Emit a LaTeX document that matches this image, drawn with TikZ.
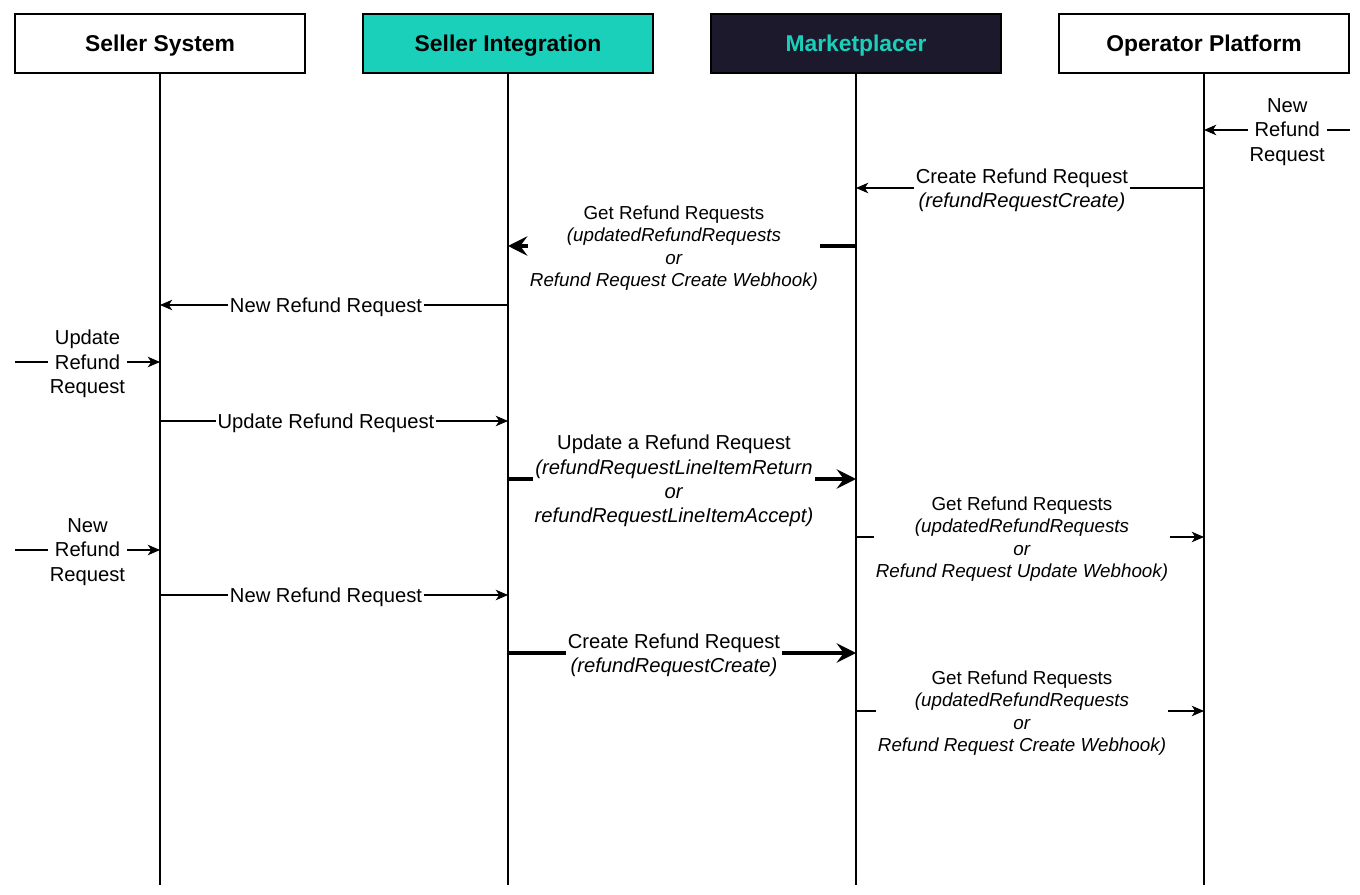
\documentclass[tikz,border=0pt]{standalone}
\usepackage{fontspec}
\setmainfont{Liberation Sans}
\usetikzlibrary{arrows.meta, positioning}
\definecolor{tealMarket}{RGB}{27,208,187}
\definecolor{navyMarket}{RGB}{28,25,45}

\begin{document}
\begin{tikzpicture}[
    x=0.02cm, y=-0.02cm,
    actor/.style={draw=black, line width=1.1pt, minimum width=5.8cm, minimum height=1.18cm, text depth=0pt, font=\fontsize{13}{15}\selectfont\bfseries},
    lifeline/.style={line width=1.1pt},
    msg/.style={line width=0.6pt, -{Stealth[length=7pt, width=6pt, inset=2pt]}},
    bigmsg/.style={line width=2pt, -{Stealth[length=11pt, width=11pt, inset=4pt]}},
    lbl/.style={fill=white, inner sep=1pt, align=center, yshift=-0.04cm, font=\fontsize{11.5}{13.9}\selectfont},
    getlbl/.style={lbl, font=\fontsize{10.7}{12.8}\selectfont}
]
    \useasboundingbox (0,0) rectangle (1360,895);

    % Participantes
    \node[actor, fill=white] (ss) at (160,43.5) {Seller System};
    \node[actor, fill=tealMarket] (si) at (508,43.5) {Seller Integration};
    \node[actor, fill=navyMarket, text=tealMarket] (mp) at (856,43.5) {Marketplacer};
    \node[actor, fill=white] (op) at (1204,43.5) {Operator Platform};

    % Linhas de vida
    \draw[lifeline] (ss.south) -- (ss.south |- 0,885);
    \draw[lifeline] (si.south) -- (si.south |- 0,885);
    \draw[lifeline] (mp.south) -- (mp.south |- 0,885);
    \draw[lifeline] (op.south) -- (op.south |- 0,885);

    % Entradas externas
    \coordinate (opIn) at (1350,130);
    \coordinate (ssIn1) at (15,362);
    \coordinate (ssIn2) at (15,550);

    % Mensagens
    \draw[msg] (opIn) -- node[lbl, pos=0.43] {New\\Refund\\Request} (op.south |- opIn);
    \draw[msg] (op.south |- 0,188) -- node[lbl, xshift=-0.16cm] {Create Refund Request\\\textit{(refundRequestCreate)}} (mp.south |- 0,188);
    \draw[bigmsg] (mp.south |- 0,246) -- node[getlbl, xshift=-0.16cm] {Get Refund Requests\\\textit{(updatedRefundRequests}\\\textit{or}\\\textit{Refund Request Create Webhook)}} (si.south |- 0,246);
    \draw[msg] (si.south |- 0,305) -- node[lbl, xshift=-0.16cm] {New Refund Request} (ss.south |- 0,305);

    \draw[msg] (ssIn1) -- node[lbl, pos=0.5] {Update\\Refund\\Request} (ss.south |- ssIn1);
    \draw[msg] (ss.south |- 0,421) -- node[lbl, xshift=-0.16cm] {Update Refund Request} (si.south |- 0,421);
    \draw[bigmsg] (si.south |- 0,479) -- node[lbl, xshift=-0.16cm] {Update a Refund Request\\\textit{(refundRequestLineItemReturn}\\\textit{or}\\\textit{refundRequestLineItemAccept)}} (mp.south |- 0,479);
    \draw[msg] (mp.south |- 0,537) -- node[getlbl, xshift=-0.16cm] {Get Refund Requests\\\textit{(updatedRefundRequests}\\\textit{or}\\\textit{Refund Request Update Webhook)}} (op.south |- 0,537);

    \draw[msg] (ssIn2) -- node[lbl, pos=0.5] {New\\Refund\\Request} (ss.south |- ssIn2);
    \draw[msg] (ss.south |- 0,595) -- node[lbl, xshift=-0.16cm] {New Refund Request} (si.south |- 0,595);
    \draw[bigmsg] (si.south |- 0,653) -- node[lbl, xshift=-0.16cm] {Create Refund Request\\\textit{(refundRequestCreate)}} (mp.south |- 0,653);
    \draw[msg] (mp.south |- 0,711) -- node[getlbl, xshift=-0.16cm] {Get Refund Requests\\\textit{(updatedRefundRequests}\\\textit{or}\\\textit{Refund Request Create Webhook)}} (op.south |- 0,711);
\end{tikzpicture}
\end{document}
